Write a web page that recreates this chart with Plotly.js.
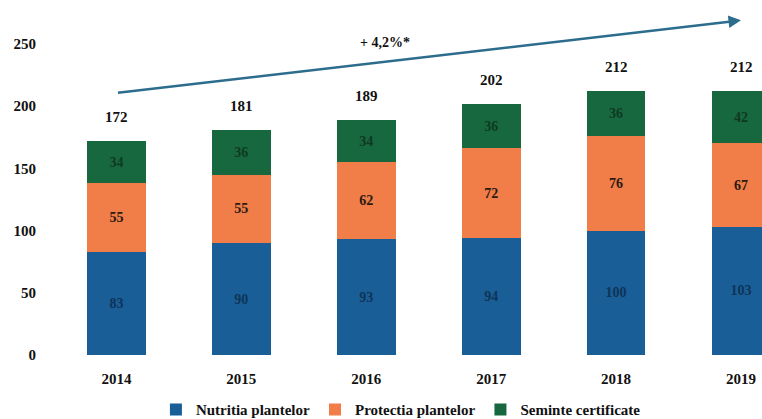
<!DOCTYPE html>
<html><head><meta charset="utf-8">
<script src="https://cdn.plot.ly/plotly-3.0.1.min.js"></script>
<style>html,body{margin:0;padding:0;background:#fff;overflow:hidden}</style>
</head><body><div id="chart" style="width:762px;height:419px"></div>
<script>
const years = ['2014','2015','2016','2017','2018','2019'];
const nutritia = [83, 90, 93, 94, 100, 103];
const protectia = [55, 55, 62, 72, 76, 67];
const seminte = [34, 36, 34, 36, 36, 42];
const totals = [172, 181, 189, 202, 212, 212];
const seriesNames = ['Nutritia plantelor', 'Protectia plantelor', 'Seminte certificate'];
const growthLabel = '+ 4,2%*';

const font = '"Times New Roman", "Liberation Serif", "DejaVu Serif", serif';
function seg(vals, name, color, txtColor) {
  return {
    type: 'bar', x: years, y: vals, name: name,
    marker: {color: color},
    width: 0.47,
    text: vals.map(String), textposition: 'inside', insidetextanchor: 'middle',
    textangle: 0,
    textfont: {family: font, size: 14, color: txtColor, weight: 'bold'},
    hoverinfo: 'skip'
  };
}
const data = [
  seg(nutritia, seriesNames[0], '#195e97', '#0f3457'),
  seg(protectia, seriesNames[1], '#f17d48', '#2a1a12'),
  seg(seminte, seriesNames[2], '#18683f', '#0e3a22')
];
const annotations = totals.map((t, i) => ({
  x: i, y: t, xref: 'x', yref: 'y', text: '<b>' + t + '</b>', showarrow: false,
  yanchor: 'bottom', yshift: 14, font: {family: font, size: 15, color: '#111'}
}));
annotations.push({
  x: 5.0, y: 269, ax: 0, ay: 210.6, xref: 'x', yref: 'y', axref: 'x', ayref: 'y',
  showarrow: true, arrowhead: 2, arrowsize: 1, arrowwidth: 2.5, arrowcolor: '#2c6c8c', text: ''
});
annotations.push({
  x: 2.15, y: 251.5, xref: 'x', yref: 'y', text: '<b>' + growthLabel + '</b>', showarrow: false,
  font: {family: font, size: 14, color: '#111'}
});
const layout = {
  width: 762, height: 419,
  margin: {l: 54, r: 0, t: 7, b: 64, autoexpand: false},
  barmode: 'stack',
  paper_bgcolor: '#fff', plot_bgcolor: '#fff',
  showlegend: true,
  legend: {orientation: 'h', x: 0.49, xanchor: 'center', yref: 'container', y: 0.022, yanchor: 'middle',
    font: {family: font, size: 15, color: '#111', weight: 'bold'}, itemwidth: 30, traceorder: 'normal'},
  xaxis: {type: 'category', range: [-0.5, 5.168], showgrid: false, zeroline: false, showline: false,
    ticks: 'outside', ticklen: 10, tickcolor: 'rgba(0,0,0,0)',
    tickfont: {family: font, size: 15, color: '#111', weight: 'bold'}},
  yaxis: {range: [0, 279.7], tickvals: [0, 50, 100, 150, 200, 250], showgrid: false, zeroline: false,
    showline: false, ticks: 'outside', ticklen: 14, tickcolor: 'rgba(0,0,0,0)',
    tickfont: {family: font, size: 15, color: '#111', weight: 'bold'}},
  annotations: annotations
};
Plotly.newPlot('chart', data, layout, {displayModeBar: false, staticPlot: true});
</script></body></html>
